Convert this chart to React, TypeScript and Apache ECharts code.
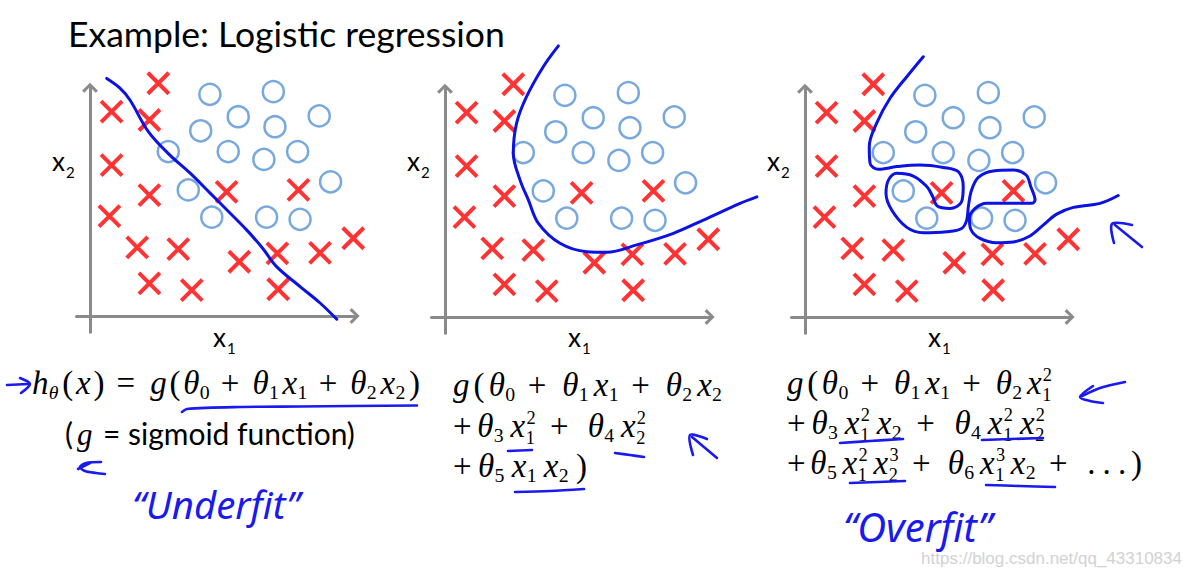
import React, { useEffect, useRef } from "react";
import * as echarts from "echarts";

// ---------------- data (axis units) ----------------
const crossX = [2.53, 0.8, 2.2, 0.8, 2.2, 5.06, 7.72, 0.72, 1.75, 3.27, 5.53, 6.94, 8.52, 9.75, 2.2, 3.77, 6.97];
const crossY = [8.62, 7.57, 7.26, 5.59, 4.48, 4.6, 4.67, 3.7, 2.54, 2.48, 2.01, 2.32, 2.34, 2.88, 1.21, 0.96, 0.99];
const circleX = [4.44, 6.79, 5.49, 4.1, 6.85, 8.49, 2.9, 5.12, 6.44, 7.69, 3.64, 8.91, 4.51, 6.54, 7.78];
const circleY = [8.21, 8.31, 7.38, 6.86, 7.01, 7.41, 6.09, 6.09, 5.8, 6.09, 4.67, 4.97, 3.66, 3.66, 3.58];

const linearX = [0.62, 1.1, 1.48, 2.16, 2.96, 3.7, 4.44, 5.1, 5.8, 6.4, 6.91, 7.78, 8.5, 9.14];
const linearY = [8.8, 8.45, 8.0, 6.83, 5.96, 5.3, 4.56, 3.9, 3.19, 2.5, 1.83, 1.09, 0.5, -0.12];

const quadX = [4.2, 3.64, 3.02, 2.65, 2.53, 2.78, 3.09, 3.46, 4.26, 5.25, 5.99, 7.1, 8.46, 9.57, 10.93, 11.55];
const quadY = [10.04, 9.27, 8.16, 7.17, 6.06, 5.07, 4.33, 3.47, 2.73, 2.42, 2.4, 2.67, 3.1, 3.59, 4.21, 4.45];

const overX = [4.38, 3.77, 3.15, 2.65, 2.38, 2.41, 2.72, 3.4, 4.26, 5.12, 5.68, 5.86, 5.8, 5.37, 4.9, 4.73, 4.51, 4.01, 3.4, 3.09, 3.0, 3.21, 3.77, 4.38, 5.25, 5.8, 5.99, 6.05, 6.17, 6.42, 6.97, 7.72, 8.19, 8.36, 8.52, 8.4, 7.72, 6.73, 6.3, 6.09, 6.14, 6.48, 7.1, 7.72, 8.33, 8.83, 9.32, 9.94, 10.93, 11.6];
const overY = [9.64, 8.9, 8.1, 7.17, 6.31, 5.69, 5.47, 5.57, 5.63, 5.54, 5.38, 4.83, 4.27, 4.02, 4.11, 4.46, 4.83, 5.22, 5.32, 5.07, 4.58, 3.96, 3.32, 3.12, 3.16, 3.28, 3.59, 4.09, 4.7, 5.17, 5.41, 5.44, 5.26, 4.83, 4.33, 4.21, 4.21, 4.21, 4.02, 3.65, 3.25, 2.91, 2.75, 2.78, 3.0, 3.41, 3.81, 4.06, 4.21, 4.5];

const titleText = "Example: Logistic regression";
const formula1 = "i:h sbi:θ r:( i:x r:) o:= i:g r:( i:θ sb:0 o:+ i:θ sb:1 i:x sb:1 o:+ i:θ sb:2 i:x sb:2 r:)";
const formula2 = [
  "i:g r:( i:θ sb:0 o:+ i:θ sb:1 i:x sb:1 o:+ i:θ sb:2 i:x sb:2",
  "r:+ i:θ sb:3 i:x ss:1,2 o:+ i:θ sb:4 i:x ss:2,2",
  "r:+ i:θ sb:5 i:x sb:1 i:x sb:2 r:)",
];
const formula3 = [
  "i:g r:( i:θ sb:0 o:+ i:θ sb:1 i:x sb:1 o:+ i:θ sb:2 i:x ss:1,2",
  "r:+ i:θ sb:3 i:x ss:1,2 i:x sb:2 o:+ i:θ sb:4 i:x ss:1,2 i:x ss:2,2",
  "r:+ i:θ sb:5 i:x ss:1,2 i:x ss:2,3 o:+ i:θ sb:6 i:x ss:1,3 i:x sb:2 o:+ r:. r:. r:. r:)",
];
const watermark = "https://blog.csdn.net/qq_43310834";

// ---------------- layout constants ----------------
const U = 27;
const XMIN = -0.5, XMAX = 9.8, YMIN = -0.6, YMAX = 8.45;
const XMAX2 = 12.5, YMAX2 = 10.8; // extent of the hidden axes that carry the boundary curves (same scale)
const ORIGINS = [
  { ox: 90, oy: 316 },
  { ox: 445, oy: 317 },
  { ox: 805, oy: 317 },
];
const RED = "#ff0000";
const CBLUE = "#5592d6";
const LBLUE = "#0b12e2";
const HAND = "#1a1aee";
const AXIS = "#8a8a8a";
const SERIF = "Liberation Serif";
const SANS = "Lato";

// hand-drawn annotations (page pixels)
const annotations: number[][][] = [
  [[7, 385], [28, 384]],
  [[20, 378], [30, 384], [21, 393]],
  [[182, 412], [187, 409], [240, 407], [300, 406.5], [417, 405.5]],
  [[101, 462], [86, 463], [80, 467], [85, 471], [96, 473], [105, 474]],
  [[78, 469], [90, 463]],
  [[508, 451], [532, 450]],
  [[615, 453], [630, 455], [644, 457]],
  [[515, 492], [550, 491], [584, 489]],
  [[717, 458], [692, 437]],
  [[693, 455], [690, 435], [707, 439]],
  [[1125, 382], [1100, 388], [1082, 396]],
  [[1093, 386], [1080, 397], [1090, 401], [1103, 403]],
  [[840, 443], [870, 441], [903, 439]],
  [[982, 440], [1043, 438]],
  [[850, 483], [905, 481]],
  [[986, 485], [1020, 486], [1055, 487]],
  [[1142, 247], [1115, 225]],
  [[1114, 243], [1112, 224], [1132, 225]],
];

type F = { size: number; family: string; italic?: boolean };

let ctx: CanvasRenderingContext2D | null = null;
function cssFont(f: F) {
  return `${f.italic ? "italic " : ""}${f.size.toFixed(2)}px "${f.family}"`;
}
function measure(f: F, text: string) {
  if (!ctx) ctx = document.createElement("canvas").getContext("2d");
  ctx!.font = cssFont(f);
  const m: any = ctx!.measureText(text);
  const asc = m.fontBoundingBoxAscent ?? f.size * 0.9;
  const desc = m.fontBoundingBoxDescent ?? f.size * 0.22;
  return { w: m.width as number, asc, desc };
}

function textEl(text: string, f: F, x: number, base: number, fill = "#000", align = "left") {
  const m = measure(f, "x");
  const cy = base - (m.asc - m.desc) / 2;
  return {
    type: "text",
    silent: true,
    z: 10,
    style: {
      text,
      x,
      y: cy,
      fontSize: f.size,
      fontFamily: f.family,
      fontStyle: f.italic ? "italic" : "normal",
      fontWeight: "normal",
      fill,
      align,
      verticalAlign: "middle",
      textAlign: align,
      textVerticalAlign: "middle",
    },
  };
}

function fitSize(text: string, family: string, italic: boolean, width: number) {
  const w = measure({ size: 100, family, italic }, text).w;
  return (100 * width) / w;
}

function mathLine(spec: string, x0: number, base: number, fs: number, xEnd: number, color = "#000") {
  const subSize = fs * 0.6;
  const stackSize = fs * 0.555;
  const toks = spec.trim().split(/\s+/).map((tok) => {
    const i = tok.indexOf(":");
    const k = tok.slice(0, i);
    const t = tok.slice(i + 1);
    let parts: { t: string; f: F; dx: number; db: number }[] = [];
    let w = 0;
    let wt = 0;
    let op = false;
    if (k === "i" || k === "r") {
      const f = { size: fs, family: SERIF, italic: k === "i" };
      w = measure(f, t).w;
      parts = [{ t, f, dx: 0, db: 0 }];
      wt = t === "." ? 0.9 : 0.6;
    } else if (k === "o") {
      const f = { size: fs, family: SERIF };
      const pad = fs * (t === "=" ? 0.28 : 0.22);
      w = measure(f, t).w + 2 * pad;
      parts = [{ t, f, dx: pad, db: 0 }];
      wt = 1.3;
      op = true;
    } else if (k === "sb" || k === "sbi") {
      const f = { size: subSize, family: SERIF, italic: k === "sbi" };
      w = measure(f, t).w + fs * 0.04;
      parts = [{ t, f, dx: fs * 0.01, db: fs * 0.16 }];
    } else if (k === "ss") {
      const [a, b] = t.split(",");
      const f = { size: stackSize, family: SERIF };
      w = Math.max(measure(f, a).w, measure(f, b).w) + fs * 0.07;
      parts = [
        { t: a, f, dx: fs * 0.02, db: fs * 0.2 },
        { t: b, f, dx: fs * 0.04, db: -fs * 0.4 },
      ];
    }
    return { parts, w, wt, op };
  });
  const natural = toks.reduce((s, t) => s + t.w, 0);
  const sumW = toks.reduce((s, t, i) => s + (i > 0 ? t.wt : 0), 0);
  const unit = sumW > 0 ? (xEnd - x0 - natural) / sumW : 0;
  const els: any[] = [];
  let x = x0;
  toks.forEach((tk, i) => {
    const add = i > 0 ? unit * tk.wt : 0;
    if (tk.op) {
      x += add / 2;
      tk.parts.forEach((p) => els.push(textEl(p.t, p.f, x + p.dx, base + p.db, color)));
      x += tk.w + add / 2;
    } else {
      x += add;
      tk.parts.forEach((p) => els.push(textEl(p.t, p.f, x + p.dx, base + p.db, color)));
      x += tk.w;
    }
  });
  return els;
}

function axisLabel(x: number, base: number, sub: string) {
  return [
    textEl("x", { size: 26, family: SANS }, x, base),
    textEl(sub, { size: 15, family: SANS }, x + 14, base + 7),
  ];
}

const CROSS = "path://M0,0L10,10M10,0L0,10";
const CHEVRON = "path://M0,10L10,0L20,10L17,12.5L10,5L3,12.5Z";

function buildOption() {
  const crosses = crossX.map((x, i) => [x, crossY[i]]);
  const circles = circleX.map((x, i) => [x, circleY[i]]);
  const bounds = [
    linearX.map((x, i) => [x, linearY[i]]),
    quadX.map((x, i) => [x, quadY[i]]),
    overX.map((x, i) => [x, overY[i]]),
  ];

  // visible grids (0..2) and hidden, same-scale grids for the boundary curves (3..5)
  const grid = [
    ...ORIGINS.map((o) => ({
      left: o.ox + XMIN * U,
      top: o.oy - YMAX * U,
      width: (XMAX - XMIN) * U,
      height: (YMAX - YMIN) * U,
      containLabel: false,
    })),
    ...ORIGINS.map((o) => ({
      left: o.ox + XMIN * U,
      top: o.oy - YMAX2 * U,
      width: (XMAX2 - XMIN) * U,
      height: (YMAX2 - YMIN) * U,
      containLabel: false,
    })),
  ];
  const axisCommon = (min: number, max: number) => ({
    type: "value",
    min,
    max,
    axisLine: {
      show: true,
      onZero: true,
      symbol: ["none", CHEVRON],
      symbolSize: [16, 12],
      lineStyle: { color: AXIS, width: 3 },
    },
    axisTick: { show: false },
    axisLabel: { show: false },
    splitLine: { show: false },
  });
  const hiddenAxis = (min: number, max: number, gi: number) => ({
    type: "value",
    min,
    max,
    gridIndex: gi,
    show: false,
  });
  const xAxis = [
    ...ORIGINS.map((_, i) => ({ ...axisCommon(XMIN, XMAX), gridIndex: i })),
    ...ORIGINS.map((_, i) => hiddenAxis(XMIN, XMAX2, i + 3)),
  ];
  const yAxis = [
    ...ORIGINS.map((_, i) => ({ ...axisCommon(YMIN, YMAX), gridIndex: i })),
    ...ORIGINS.map((_, i) => hiddenAxis(YMIN, YMAX2, i + 3)),
  ];

  const series: any[] = [];
  ORIGINS.forEach((_, g) => {
    series.push({
      type: "scatter",
      xAxisIndex: g,
      yAxisIndex: g,
      data: crosses,
      symbol: CROSS,
      symbolSize: 21,
      clip: false,
      silent: true,
      itemStyle: { color: "transparent", borderColor: RED, borderWidth: 4 },
    });
    series.push({
      type: "scatter",
      xAxisIndex: g,
      yAxisIndex: g,
      data: circles,
      symbol: "circle",
      symbolSize: 21,
      clip: false,
      silent: true,
      itemStyle: { color: "transparent", borderColor: CBLUE, borderWidth: 2.5 },
    });
  });
  ORIGINS.forEach((_, g) => {
    series.push({
      type: "line",
      xAxisIndex: g + 3,
      yAxisIndex: g + 3,
      data: bounds[g],
      smooth: 0.35,
      symbol: "none",
      clip: false,
      silent: true,
      z: 3,
      lineStyle: { color: LBLUE, width: 3, cap: "round", join: "round" },
    });
  });

  const graphics: any[] = [];
  // title
  const tfs = fitSize(titleText, SANS, false, 437);
  graphics.push(textEl(titleText, { size: tfs, family: SANS }, 68, 47));
  // axis labels
  ORIGINS.forEach((o) => {
    const dx = o.ox - 90;
    graphics.push(...axisLabel(52 + dx, 171, "2"));
    graphics.push(...axisLabel(213 + dx, 346.5, "1"));
  });
  // formulas
  const FS = 33;
  graphics.push(...mathLine(formula1, 32, 394, FS, 420));
  const gfs = fitSize("= sigmoid function)", SANS, false, 252);
  graphics.push(textEl("(", { size: gfs, family: SANS }, 65, 445));
  graphics.push(textEl("g", { size: 31, family: SERIF, italic: true }, 77, 445));
  graphics.push(textEl("= sigmoid function)", { size: gfs, family: SANS }, 103, 445));
  const f2b = [396, 437, 477];
  const f2e = [723, 647, 587];
  formula2.forEach((s, i) => graphics.push(...mathLine(s, 453, f2b[i], FS, f2e[i])));
  const f3b = [394, 434, 474];
  const f3e = [1053, 1046, 1142];
  formula3.forEach((s, i) => graphics.push(...mathLine(s, 787, f3b[i], FS, f3e[i])));
  // handwritten notes
  const ufs = fitSize("“Underfit”", "Noto Sans", true, 168);
  graphics.push(textEl("“Underfit”", { size: ufs, family: "Noto Sans", italic: true }, 132, 519, HAND));
  const ofs = fitSize("“Overfit”", "Noto Sans", true, 149);
  graphics.push(textEl("“Overfit”", { size: ofs, family: "Noto Sans", italic: true }, 843, 542, HAND));
  annotations.forEach((pts) =>
    graphics.push({
      type: "polyline",
      silent: true,
      z: 10,
      shape: { points: pts, smooth: pts.length > 2 ? 0.3 : 0 },
      style: { stroke: HAND, lineWidth: 2.6, fill: "none", lineCap: "round", lineJoin: "round" },
    })
  );
  // watermark
  graphics.push(textEl(watermark, { size: 17, family: "Liberation Sans" }, 1182, 564, "#d2d2d2", "right"));

  return {
    animation: false,
    backgroundColor: "#ffffff",
    grid,
    xAxis,
    yAxis,
    series,
    graphic: { elements: graphics },
  };
}

export default function App() {
  const ref = useRef<HTMLDivElement>(null);
  useEffect(() => {
    if (!ref.current) return;
    const chart = echarts.init(ref.current, undefined, { renderer: "svg" });
    chart.setOption(buildOption() as any);
    return () => chart.dispose();
  }, []);
  return (
    <div
      ref={ref}
      style={{ position: "absolute", left: 0, top: 0, width: 1193, height: 578, background: "#fff" }}
    />
  );
}
